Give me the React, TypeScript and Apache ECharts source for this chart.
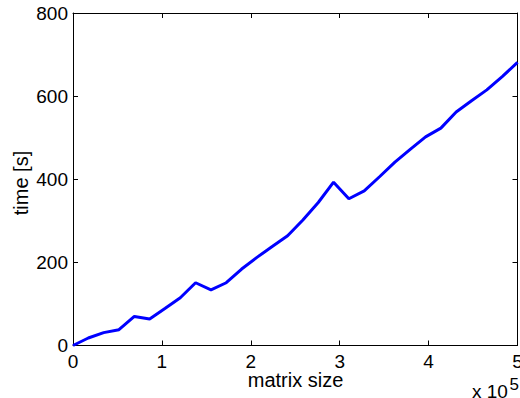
import React, { useEffect, useRef } from "react";
import * as echarts from "echarts";

// matrix size (x 10^5)
const matrixSize = [
  0, 0.172, 0.345, 0.517, 0.69, 0.862, 1.034, 1.207, 1.379, 1.552,
  1.724, 1.897, 2.069, 2.241, 2.414, 2.586, 2.759, 2.931, 3.103, 3.276,
  3.448, 3.621, 3.793, 3.966, 4.138, 4.31, 4.483, 4.655, 4.828, 5.0,
];
// time [s]
const timeSec = [
  0, 18, 31, 38, 70, 64, 89, 115, 151, 134,
  151, 184, 212, 238, 264, 302, 344, 393, 353, 372,
  406, 441, 472, 502, 523, 562, 589, 615, 647, 681,
];
const xTicks = [0, 1, 2, 3, 4, 5];
const yTicks = [0, 200, 400, 600, 800];

const FONT = "'Liberation Sans', Arial, Helvetica, sans-serif";

export default function App() {
  const ref = useRef<HTMLDivElement>(null);
  useEffect(() => {
    if (!ref.current) return;
    const chart = echarts.init(ref.current, null, { renderer: "svg" });
    const data = matrixSize.map((x, i) => [x, timeSec[i]]);
    const axisLine = { show: true, onZero: false, lineStyle: { color: "#000", width: 1 } };
    const tick = { show: true, inside: true, length: 5, lineStyle: { color: "#000", width: 1 } };
    chart.setOption({
      animation: false,
      backgroundColor: "#fff",
      grid: {
        left: 73,
        top: 13,
        right: 2.5,
        bottom: 52.5,
        containLabel: false,
        outerBoundsMode: "none",
      },
      xAxis: [
        {
          type: "value",
          position: "bottom",
          min: xTicks[0],
          max: xTicks[xTicks.length - 1],
          interval: 1,
          axisLine,
          axisTick: tick,
          splitLine: { show: false },
          axisLabel: {
            show: true,
            color: "#000",
            fontFamily: FONT,
            fontSize: 19,
            margin: 6,
            showMaxLabel: true,
            showMinLabel: true,
            hideOverlap: false,
          },
        },
        {
          type: "value",
          position: "top",
          min: xTicks[0],
          max: xTicks[xTicks.length - 1],
          interval: 1,
          axisLine,
          axisTick: tick,
          splitLine: { show: false },
          axisLabel: { show: false },
        },
      ],
      yAxis: [
        {
          type: "value",
          position: "left",
          min: yTicks[0],
          max: yTicks[yTicks.length - 1],
          interval: 200,
          axisLine,
          axisTick: tick,
          splitLine: { show: false },
          axisLabel: {
            show: true,
            color: "#000",
            fontFamily: FONT,
            fontSize: 19,
            margin: 5,
          },
        },
        {
          type: "value",
          position: "right",
          min: yTicks[0],
          max: yTicks[yTicks.length - 1],
          interval: 200,
          axisLine,
          axisTick: tick,
          splitLine: { show: false },
          axisLabel: { show: false },
        },
      ],
      series: [
        {
          type: "line",
          data,
          xAxisIndex: 0,
          yAxisIndex: 0,
          showSymbol: false,
          symbol: "none",
          lineStyle: { color: "#0000ff", width: 3 },
          z: 1,
        },
      ],
      graphic: [
        {
          type: "text",
          x: 295.5,
          y: 380,
          style: {
            text: "matrix size",
            font: `20px ${FONT}`,
            fill: "#000",
            align: "center",
            verticalAlign: "middle",
          },
        },
        {
          type: "text",
          x: 21,
          y: 183,
          rotation: Math.PI / 2,
          style: {
            text: "time [s]",
            font: `20px ${FONT}`,
            fill: "#000",
            align: "center",
            verticalAlign: "middle",
          },
        },
        {
          type: "text",
          x: 472,
          y: 391,
          style: {
            text: "x 10",
            font: `19px ${FONT}`,
            fill: "#000",
            align: "left",
            verticalAlign: "middle",
          },
        },
        {
          type: "text",
          x: 509.5,
          y: 384,
          style: {
            text: "5",
            font: `17px ${FONT}`,
            fill: "#000",
            align: "left",
            verticalAlign: "middle",
          },
        },
      ],
    });
    return () => chart.dispose();
  }, []);
  return (
    <div
      ref={ref}
      style={{ position: "fixed", left: 0, top: 0, width: 520, height: 398 }}
    />
  );
}
